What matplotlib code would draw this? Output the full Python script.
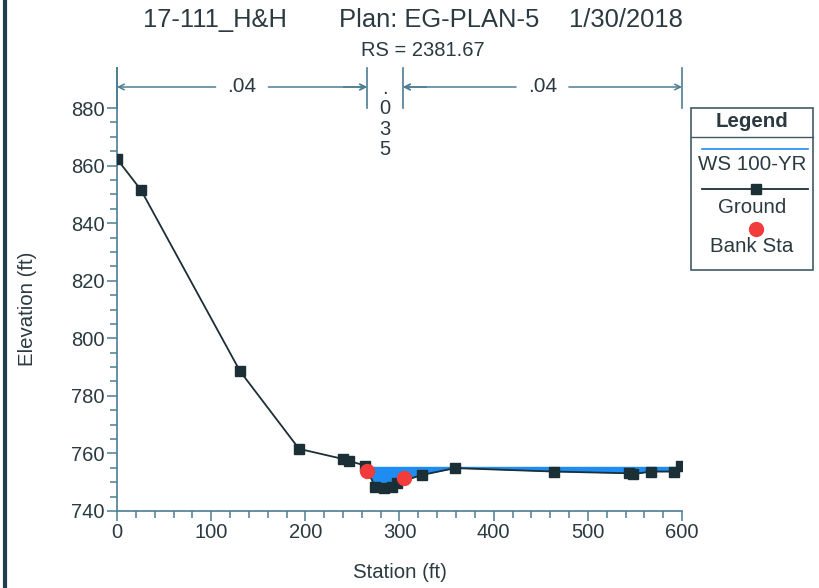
import numpy as np
import matplotlib.pyplot as plt
from matplotlib.ticker import MultipleLocator, FixedLocator
from matplotlib.lines import Line2D

plt.rcParams['font.family'] = ['Liberation Sans', 'DejaVu Sans']

# Ground profile (station, elevation)
station = [0, 25.5, 130.6, 193.3, 239.6, 246.4, 263.3, 274, 283.5, 291.6, 296.9,
           323.5, 359, 464.3, 544, 548.3, 567, 591.8, 598.9]
elev = [862.3, 851.5, 788.6, 761.6, 758.1, 757.4, 755.8, 748.5, 747.9, 748.5, 749.7,
        752.5, 754.9, 753.7, 753.1, 752.8, 753.7, 753.7, 755.7]
bank_sta = [266, 304.8]
bank_elev = [754.0, 751.4]
ws_elev = 755.4
n_breaks = [0, 265.5, 303.7, 600]
n_vals = ['.04', '.035', '.04']

txt = '#2b3a40'
axc = '#4d7d92'

fig = plt.figure(figsize=(8.19, 5.88), dpi=100)
ax = fig.add_axes([117/819, 1-511/588, (682-117)/819, (511-68)/588])

st = np.array(station, dtype=float)
el = np.array(elev, dtype=float)
# densify for water fill
xs = np.linspace(st.min(), st.max(), 3000)
gs = np.interp(xs, st, el)
ax.fill_between(xs, gs, ws_elev, where=(gs < ws_elev) & (xs > 250),
                color='#1e8cf0', lw=0, interpolate=True, zorder=2)
ax.plot([260, 600], [ws_elev, ws_elev], color='#1e8cf0', lw=1, zorder=2)
ax.plot(station, elev, color='#1b2f36', lw=1.3, marker='s', ms=6.5, zorder=3)
ax.plot(bank_sta, bank_elev, 'o', color='#f23c3c', ms=10, zorder=4)

ax.set_xlim(0, 600)
ax.set_ylim(740, 893.9)
ax.xaxis.set_major_locator(MultipleLocator(100))
ax.xaxis.set_minor_locator(MultipleLocator(20))
ax.yaxis.set_major_locator(FixedLocator(np.arange(740, 881, 20)))
ax.yaxis.set_minor_locator(FixedLocator(np.arange(740, 881, 5)))
for s in ['top', 'right']:
    ax.spines[s].set_visible(False)
for s in ['left', 'bottom']:
    ax.spines[s].set_color(axc)
    ax.spines[s].set_linewidth(1.2)
ax.tick_params(which='both', colors=axc, labelcolor=txt, labelsize=14.5, width=1.1)
ax.tick_params(which='major', length=7, pad=2)
ax.tick_params(which='minor', length=5)
ax.set_xlabel('Station (ft)', fontsize=14.7, color=txt, labelpad=15)
ax.set_ylabel('Elevation (ft)', fontsize=14.7, color=txt)
ax.yaxis.set_label_coords(-0.142, 0.456)

# Manning's n markers
ytop, ybot, yarr = 893.9, 880, 887.3
for xb in n_breaks:
    ax.plot([xb, xb], [ybot, ytop], color=axc, lw=1.2, clip_on=False)
for i, nv in enumerate(n_vals):
    x0, x1 = n_breaks[i], n_breaks[i + 1]
    xm = (x0 + x1) / 2
    if x1 - x0 > 100:
        ax.annotate('', xy=(x0, yarr), xytext=(xm, yarr),
                    arrowprops=dict(arrowstyle='->', color=axc, lw=1.1, shrinkA=19, shrinkB=0))
        ax.annotate('', xy=(x1, yarr), xytext=(xm, yarr),
                    arrowprops=dict(arrowstyle='->', color=axc, lw=1.1, shrinkA=19, shrinkB=0))
        ax.text(xm, yarr, nv, ha='center', va='center', fontsize=15, color=txt)
    else:
        ax.annotate('', xy=(x0, yarr), xytext=(x0 - 25, yarr),
                    arrowprops=dict(arrowstyle='->', color=axc, lw=1.1, shrinkA=0, shrinkB=0))
        ax.annotate('', xy=(x1, yarr), xytext=(x1 + 25, yarr),
                    arrowprops=dict(arrowstyle='->', color=axc, lw=1.1, shrinkA=0, shrinkB=0))
        ax.text(xm, 890, '\n'.join(nv), ha='center', va='top', fontsize=14.5,
                color=txt, linespacing=1.08)

# Titles
fig.text(215/819, 1-20/588, '17-111_H&H', ha='center', va='center', fontsize=18.4, color=txt)
fig.text(439/819, 1-20/588, 'Plan: EG-PLAN-5', ha='center', va='center', fontsize=18.4, color=txt)
fig.text(626/819, 1-20/588, '1/30/2018', ha='center', va='center', fontsize=18.4, color=txt)
fig.text(423/819, 1-50/588, 'RS = 2381.67', ha='center', va='center', fontsize=14.5, color=txt)

# Legend box
lx0, lx1, ly0, ly1 = 691/819, 813/819, 1-270/588, 1-108/588
fig.patches.append(plt.Rectangle((lx0, ly0), lx1-lx0, ly1-ly0, transform=fig.transFigure,
                                 fill=False, ec='#3f5a66', lw=1.2))
fig.add_artist(Line2D([lx0, lx1], [1-137/588]*2, color='#3f5a66', lw=1))
lc = (lx0 + lx1) / 2
fig.text(lc, 1-121/588, 'Legend', ha='center', va='center', fontsize=14.8, weight='bold', color=txt)
fig.add_artist(Line2D([702/819, 808/819], [1-149/588]*2, color='#1e8cf0', lw=1.2))
fig.text(lc, 1-165/588, 'WS 100-YR', ha='center', va='center', fontsize=14.8, color=txt)
fig.add_artist(Line2D([702/819, 808/819], [1-189/588]*2, color='#1b2f36', lw=1.3))
fig.add_artist(Line2D([756/819], [1-189/588], color='#1b2f36', marker='s', ms=6.5))
fig.text(lc, 1-208/588, 'Ground', ha='center', va='center', fontsize=14.8, color=txt)
fig.add_artist(Line2D([756/819], [1-229/588], color='#f23c3c', marker='o', ms=10))
fig.text(lc, 1-246/588, 'Bank Sta', ha='center', va='center', fontsize=14.8, color=txt)

# left frame edge
fig.add_artist(Line2D([5/819, 5/819], [0, 1], color='#1f3f4f', lw=3))

fig.savefig('out.png', dpi=100)
